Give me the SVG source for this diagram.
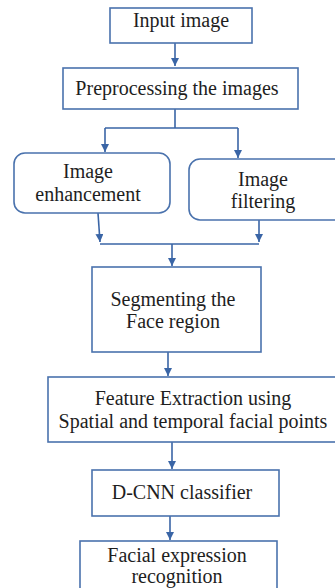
<svg xmlns="http://www.w3.org/2000/svg" width="335" height="588" viewBox="0 0 335 588">
<defs>
<marker id="ah" viewBox="0 0 10 10" refX="10" refY="5" markerWidth="8" markerHeight="8" markerUnits="userSpaceOnUse" orient="auto">
<path d="M0,0 L10,5 L0,10 z" fill="#3a65a6"/>
</marker>
<style>
.box{fill:#fff;stroke:#4a72ad;stroke-width:1.6}
.t{font-family:'Liberation Serif','Times New Roman',serif;font-size:20px;fill:#1e1e1e;text-anchor:middle}
.c{fill:none;stroke:#3a65a6;stroke-width:1.6}
</style>
</defs>
<rect width="335" height="588" fill="#fff"/>
<g id="connectors">
<path class="c" d="M175,43 V66" marker-end="url(#ah)"/>
<path class="c" d="M175,109 V128 M105,128 H238"/>
<path class="c" d="M105,128 V152" marker-end="url(#ah)"/>
<path class="c" d="M238,128 V158" marker-end="url(#ah)"/>
<path class="c" d="M98,213 L100,242" marker-end="url(#ah)"/>
<path class="c" d="M259,220 V242" marker-end="url(#ah)"/>
<path class="c" d="M100,244 H259"/>
<path class="c" d="M172,244 V266" marker-end="url(#ah)"/>
<path class="c" d="M168,352 V376" marker-end="url(#ah)"/>
<path class="c" d="M172,442 V469" marker-end="url(#ah)"/>
<path class="c" d="M170,516 V540" marker-end="url(#ah)"/>
</g>
<g id="n1"><rect class="box" x="110" y="8" width="142" height="35"/><text class="t" x="181" y="27">Input image</text></g>
<g id="n2"><rect class="box" x="63" y="68" width="235" height="41"/><text class="t" x="177" y="95">Preprocessing the images</text></g>
<g id="n3"><rect class="box" x="14" y="153" width="156" height="60" rx="11"/><text class="t" x="88" y="178">Image</text><text class="t" x="88" y="201">enhancement</text></g>
<g id="n4"><rect class="box" x="189" y="159" width="160" height="61" rx="11"/><text class="t" x="263" y="186">Image</text><text class="t" x="263" y="208">filtering</text></g>
<g id="n5"><rect class="box" x="92" y="267" width="169" height="85"/><text class="t" x="173" y="306">Segmenting the</text><text class="t" x="173" y="328">Face region</text></g>
<g id="n6"><rect class="box" x="48" y="377" width="300" height="65"/><text class="t" x="193" y="405">Feature Extraction using</text><text class="t" x="193" y="428">Spatial and temporal facial points</text></g>
<g id="n7"><rect class="box" x="92" y="470" width="187" height="46"/><text class="t" x="182" y="499">D-CNN classifier</text></g>
<g id="n8"><rect class="box" x="80" y="541" width="197" height="60"/><text class="t" x="177" y="562">Facial expression</text><text class="t" x="177" y="583">recognition</text></g>
</svg>
